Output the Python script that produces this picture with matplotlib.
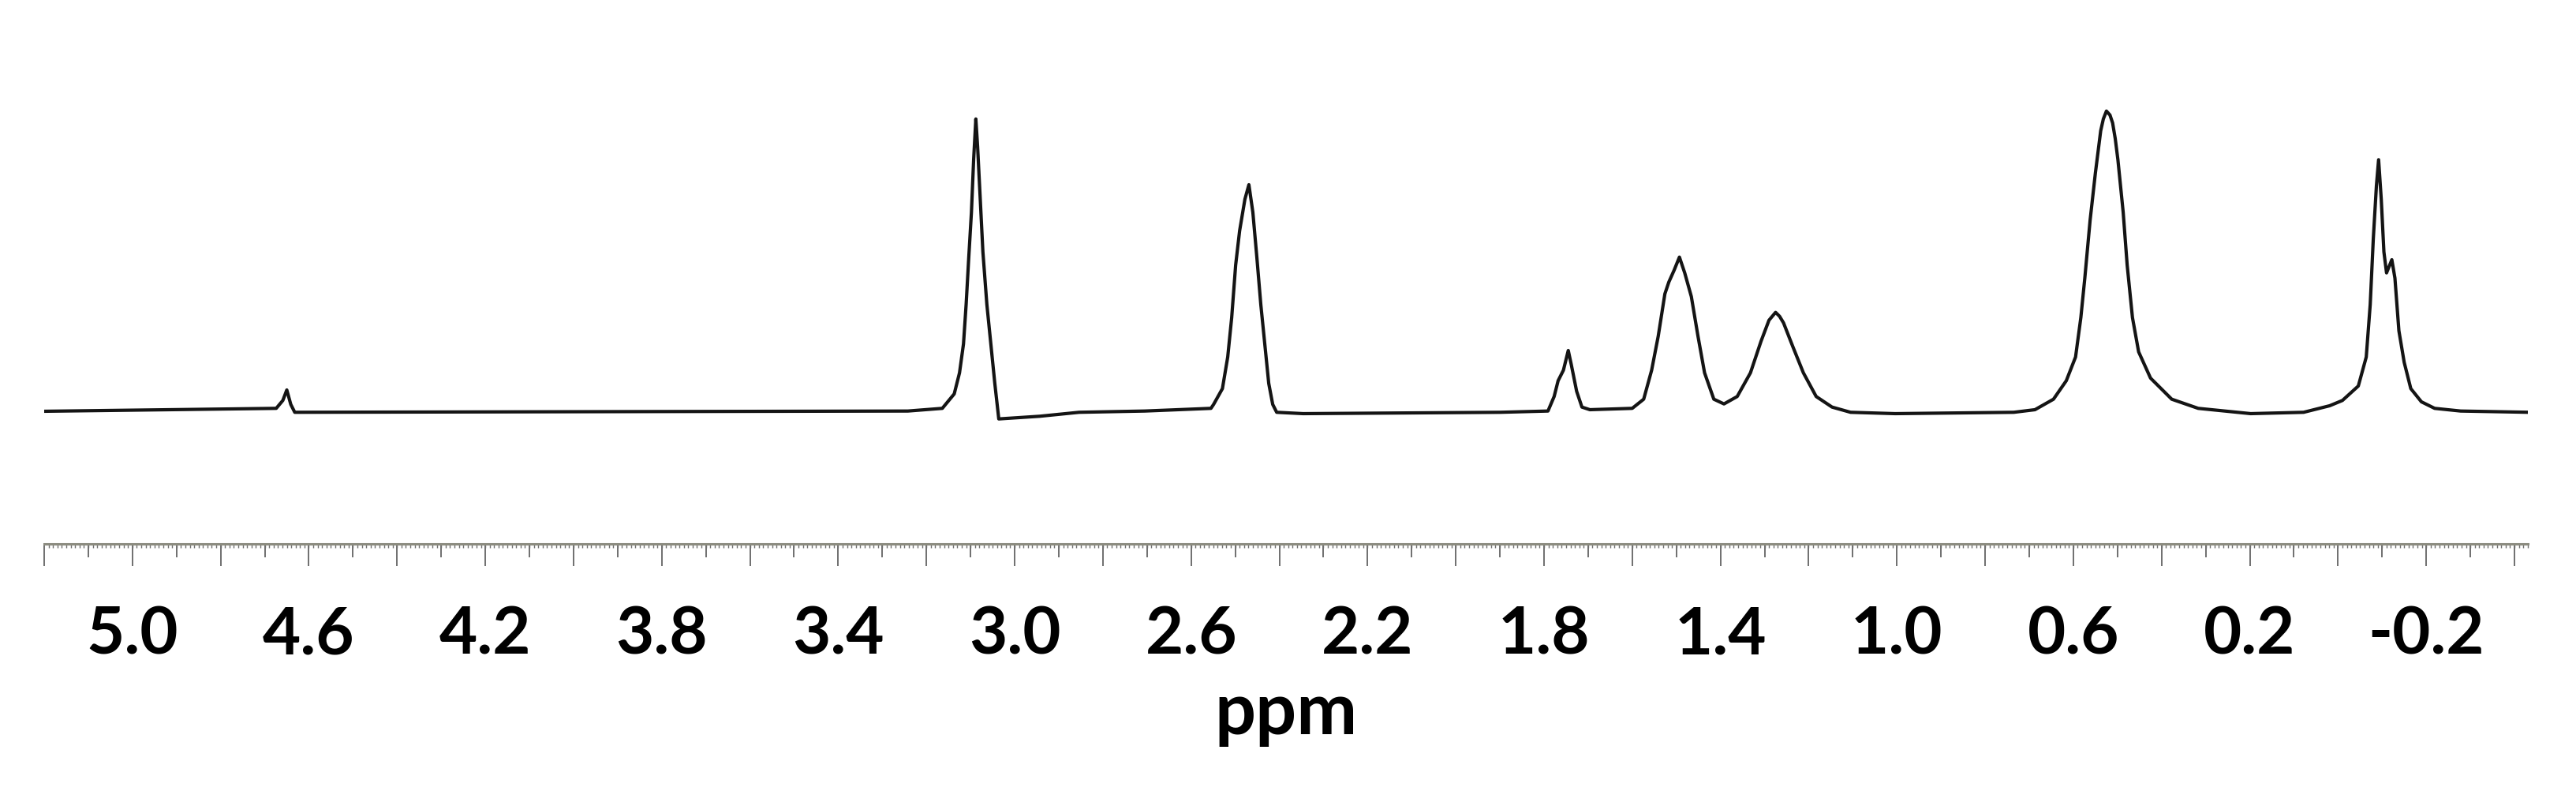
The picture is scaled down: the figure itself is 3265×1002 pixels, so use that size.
import numpy as np
import matplotlib.pyplot as plt
from matplotlib.ticker import FixedLocator, FuncFormatter

plt.rcParams['font.family'] = ['Lato', 'DejaVu Sans']
plt.rcParams['font.weight'] = 'bold'

# 1H trace: chemical shift (ppm) and intensity (arb. units)
shift_ppm = [
    5.200, 4.674, 4.659, 4.650, 4.641, 4.632, 3.242,
    3.164, 3.137, 3.125, 3.116, 3.110, 3.104, 3.098, 3.093, 3.088,
    3.084, 3.078, 3.072, 3.063, 3.054, 3.045, 3.036,
    2.943, 2.854, 2.705, 2.555,
    2.549, 2.529, 2.517, 2.508, 2.499, 2.490, 2.478, 2.469,
    2.460, 2.451, 2.442, 2.433, 2.424, 2.415, 2.406, 2.346,
    1.899, 1.791, 1.777, 1.768, 1.756, 1.745, 1.738, 1.726, 1.714, 1.696,
    1.600, 1.574, 1.556, 1.541, 1.526, 1.517, 1.505, 1.493,
    1.481, 1.466, 1.451, 1.436, 1.415, 1.392,
    1.362, 1.332, 1.308, 1.290, 1.283, 1.275, 1.266, 1.257, 1.236, 1.212, 1.183,
    1.147, 1.105, 1.004,
    0.735, 0.687, 0.645, 0.616, 0.595, 0.583, 0.574, 0.562, 0.550, 0.538, 0.532,
    0.525, 0.517, 0.511, 0.505, 0.499, 0.487, 0.478, 0.466, 0.452, 0.425, 0.377,
    0.317, 0.198, 0.078,
    0.019, -0.010, -0.046, -0.064, -0.073, -0.080, -0.087, -0.092,
    -0.098, -0.104, -0.110, -0.122, -0.129, -0.138, -0.150, -0.165,
    -0.189, -0.219, -0.278, -0.434,
]
intensity = [
    0.0, 3.7, 13.7, 27.0, 8.7, -1.3, 0.3,
    3.7, 22.0, 48.7, 85.3, 135.3, 195.3, 252.0, 318.7, 370.3,
    335.3, 268.7, 202.0, 135.3, 85.3, 35.3, -9.7,
    -6.3, -1.3, 0.3, 3.7,
    8.7, 28.7, 68.7, 118.7, 185.3, 228.7, 268.7, 287.0,
    252.0, 195.3, 135.3, 85.3, 35.3, 8.7, -1.3, -3.0,
    -1.3, 0.3, 18.7, 38.7, 52.0, 77.0, 58.7, 25.3, 5.3, 2.0,
    3.7, 15.3, 52.0, 95.3, 148.7, 163.7, 178.7, 195.3,
    175.3, 145.3, 95.3, 48.7, 15.3, 9.3,
    18.7, 48.7, 88.7, 115.3, 120.0, 125.3, 120.3, 112.0, 82.0, 48.7, 18.7,
    5.3, -1.3, -3.0,
    -1.3, 2.0, 15.3, 38.7, 68.7, 118.7, 168.7, 242.0, 302.0, 355.3, 370.3,
    380.3, 375.3, 365.3, 345.3, 318.7, 252.0, 185.3, 118.7, 75.3, 42.0, 15.3,
    3.7, -3.0, -1.3,
    7.0, 13.7, 32.0, 68.7, 135.3, 218.7, 285.3, 318.7,
    268.7, 202.0, 175.3, 192.0, 168.7, 102.0, 62.0, 28.7,
    12.0, 3.7, 0.3, -1.3,
]

labelled_ppm = [5.0, 4.6, 4.2, 3.8, 3.4, 3.0, 2.6, 2.2, 1.8, 1.4, 1.0, 0.6, 0.2, -0.2]

fig = plt.figure(figsize=(32.66, 10.03), dpi=100)
ax = fig.add_axes([0.01715, 0.3121, 0.9638, 0.5882])

ax.plot(shift_ppm, intensity, color='#141414', lw=3.0, solid_joinstyle='round')

ax.set_xlim(5.2, -0.43)
ax.set_ylim(-168, 422)

for side in ('top', 'left', 'right'):
    ax.spines[side].set_visible(False)
ax.spines['bottom'].set_color('#8c8c80')
ax.spines['bottom'].set_linewidth(2.2)

# long ticks every 0.2 ppm, medium every 0.1, labels every 0.4
major = np.round(np.arange(-0.4, 5.21, 0.2), 1)
minor = np.round(np.arange(-0.3, 5.2, 0.2), 1)
ax.xaxis.set_major_locator(FixedLocator(major))
ax.xaxis.set_minor_locator(FixedLocator(minor))
ax.xaxis.set_major_formatter(FuncFormatter(
    lambda v, pos: f"{v:.1f}" if round(v, 1) in labelled_ppm else ""))

ax.tick_params(axis='x', which='major', direction='out', length=20, width=1.4,
               color='#6f6f6f', pad=36, labelsize=60, labelcolor='black')
ax.tick_params(axis='x', which='minor', direction='out', length=12, width=1.4,
               color='#6f6f6f')
ax.tick_params(axis='y', left=False, labelleft=False)

# fine 0.01 ppm ticks
fine = ax.secondary_xaxis('bottom')
fine.set_xticks(np.round(np.arange(-0.43, 5.2, 0.01), 2))
fine.tick_params(axis='x', direction='out', length=3.5, width=1.0, color='#707070',
                 labelbottom=False)
fine.spines['bottom'].set_visible(False)

ax.set_xlabel('ppm', fontsize=66, fontweight='bold', labelpad=14)

fig.savefig('out.png', dpi=100)
